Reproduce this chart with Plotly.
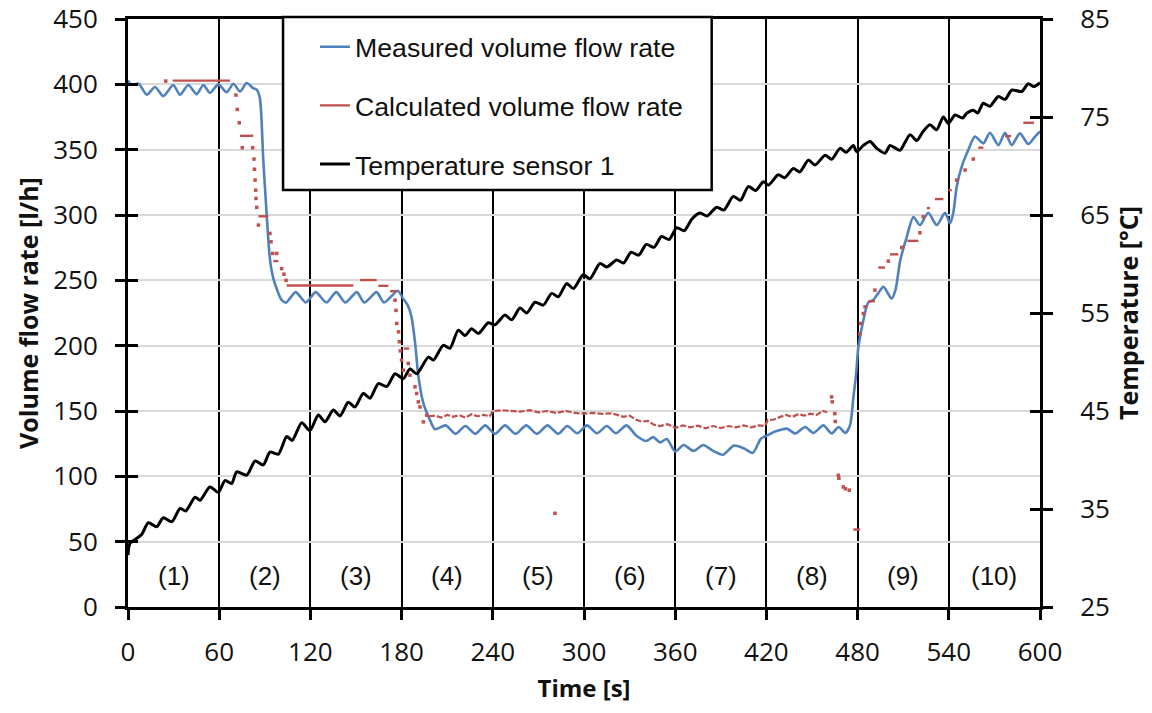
import plotly.graph_objects as go

# ---------------- data ----------------
# Measured volume flow rate [l/h]
meas_t = [0, 2, 7, 12.3, 17.8, 23.2, 29.8, 34.2, 39.7, 45.2,
          49.6, 53.9, 59.4, 64.9, 69.3, 73.7, 78.1, 82.4, 84.6, 86.7,
          89, 91.2, 93.4, 95.6, 98, 101, 104, 110.3, 117, 123.5,
          130.5, 137, 143, 150.5, 155.5, 163.5, 168.5, 177.5, 181, 184,
          186.5, 189, 191, 194.3, 198.7, 202, 209, 215.5, 222, 228.5,
          235, 241.5, 248, 255, 262, 269, 276, 283, 289, 295.5,
          302, 308.5, 315, 321, 328, 334.5, 341, 345.5, 350, 354.5,
          360, 365.5, 372, 378.5, 385, 391.5, 398.5, 405, 411, 416.5,
          421, 425, 429, 433.5, 439, 445.5, 451, 457.5, 463, 467.5,
          472, 475, 477.2, 479, 480.5, 483.8, 487, 490.3, 493.5, 497,
          502.4, 505, 508, 512.3, 516.7, 521, 526.5, 532, 537.5, 540.8,
          543, 545.2, 548.5, 552.8, 557.2, 562.7, 567.1, 572.6, 577, 581.4,
          586.8, 592.3, 596.7, 600]
meas_v = [403, 399.5, 400.5, 392, 398, 391, 399.5, 392, 399.5, 392.5,
          399.5, 393.5, 400, 394, 400.5, 394.5, 401, 397, 396, 390,
          342, 301, 266, 251.5, 243, 235, 233, 241, 233, 241,
          233, 241, 233, 241, 233, 241, 233, 242, 236, 231,
          222, 201, 177, 156, 143, 136, 139, 132.5, 138.5, 132.5,
          139, 132.5, 139, 132.5, 139, 132.5, 139, 132.5, 138.5, 133,
          139, 133, 138.5, 133, 139, 131, 127, 130, 126, 128.5,
          119, 124, 119.5, 124, 119.5, 116.5, 123.5, 121.5, 118, 129,
          131.5, 134, 135.5, 136.5, 132.8, 137.8, 133.2, 139, 132.8, 137.8,
          133.2, 139, 160, 178, 199, 219.5, 233, 235, 240, 245,
          236, 243, 265, 283, 298.5, 292.3, 301.7, 292.3, 301.7, 293.5,
          302, 321.6, 337, 349.7, 360, 354.8, 363, 353.5, 363, 353.5,
          362.5, 354.3, 360, 364]

# Calculated volume flow rate [l/h] - constant plateaus (None = gap)
calc_flat_t = [29.4, 67.1, None, 73.7, 82.4, None, 85.8, 92.3, None,
               95.6, 98.9, None, 104.4, 148.2, None, 152.6, 163.6, None,
               164.7, 171.3, None, 172.4, 176.8, None, 181.5, 185, None,
               477.2, 481.6, None, 487, 491.4, None, 493.6, 498, None,
               501.3, 506.8, None, 512.7, 520, None, 525.5, 527.6, None,
               530.9, 536.4, None, 539.7, 541.9, None, 559.4, 562.7, None,
               577, 581, None, 589, 596]
calc_flat_v = [402.8, 402.8, None, 360.6, 360.6, None, 299, 299, None,
               264.7, 264.7, None, 246, 246, None, 250.2, 250.2, None,
               245.8, 245.8, None, 241.7, 241.7, None, 197.8, 197.8, None,
               59.3, 59.3, None, 234, 234, None, 259.8, 259.8, None,
               269.9, 269.9, None, 280.2, 280.2, None, 305.3, 305.3, None,
               312.2, 312.2, None, 319, 319, None, 351.5, 351.5, None,
               360.4, 360.4, None, 370.6, 370.6]

# Calculated volume flow rate [l/h] - noisy low-flow period
calc_noisy_t = [198, 202, 206, 210, 214, 218, 222, 226, 230, 234,
                238, 240, 246, 252, 258, 264, 270, 276, 282, 288,
                294, 300, 306, 312, 318, 322, 326, 330, 334, 338,
                342, 346, 350, 355, 360, 365, 370, 375, 380, 385,
                390, 395, 400, 405, 410, 415, 419, 421, 425, 429,
                433, 437, 441, 445, 449, 453, 457, 460]
calc_noisy_v = [146, 146.5, 145, 147, 145.5, 146.8, 145, 147.5, 146, 147,
                146, 150, 150.6, 150, 149.5, 150.6, 149, 150, 148.5, 150,
                148.5, 148, 148.5, 147.8, 148.2, 147, 145.5, 146.5, 143.5, 141.8,
                142.5, 139.5, 138.5, 140, 137, 139, 137.5, 138.8, 136.8, 138.5,
                137, 138.5, 137.5, 139, 137.5, 139, 138.5, 143, 143.5, 145.5,
                147, 145.5, 147.5, 146.5, 148, 147, 150, 149]

# Calculated volume flow rate [l/h] - isolated samples
calc_dot_t = [24.8, 71, 71.9, 73.2, 75.2, 82, 82.9, 83.2, 83.6, 84,
              84.2, 84.7, 85.8, 93.4, 94.1, 95.2, 97.8, 101.1, 102.6, 104,
              175.7, 176.3, 176.8, 178, 178.5, 179.2, 180, 181.1, 184.4, 185.5,
              188.8, 189.9, 191, 192.1, 194.3, 196.5, 280.9,
              462.9, 463.3, 465, 465.3, 467.3, 467.7, 470.6, 472, 474.5,
              481.4, 481.8, 483.8, 484.9, 491.4, 500.2, 509, 521, 523.2,
              545.2, 550.7, 556.1]
calc_dot_v = [402.5, 391.8, 380.8, 370.6, 351.5, 351.5, 342.8, 335, 326.7, 319,
              312.7, 305.8, 292.3, 285.9, 279.5, 270.6, 270.6, 259, 254.7, 250,
              234.8, 227, 217, 210.6, 203, 196, 188.9, 181.2, 186.4, 177.4,
              168.5, 163.4, 157, 153.1, 141.7, 146.8, 71.7,
              160.8, 157, 148, 142, 100.8, 98.5, 91.9, 90.5, 89.4,
              209, 217, 224.6, 229.7, 242.5, 264.7, 275.2, 286.4, 298.6,
              326.7, 334.4, 342.8]

# Temperature sensor 1 [°C]
temp_t = [0, 1.3, 5.7, 9, 13.4, 18.9, 23.2, 28.8, 34.2, 38,
          44.1, 47.4, 53.9, 59.4, 63.8, 68.2, 71.5, 78.1, 83.6, 89,
          93.4, 98.9, 104.4, 108, 114.3, 119.7, 125.2, 129.6, 135.1, 139.5,
          144.9, 149.3, 154.8, 159.2, 164.7, 170.2, 175.7, 181.1, 185.5, 189.9,
          197.6, 200.9, 207.4, 211.8, 217.3, 221.7, 226.1, 230.5, 237, 241.4,
          248, 252.4, 257.9, 262.3, 267.8, 273.2, 278.8, 283.1, 288.6, 293,
          299.5, 303.9, 310.5, 315, 321.5, 326, 331, 336, 341, 346,
          351, 356, 361, 366, 371, 376.3, 381, 387.3, 392, 398.2,
          403, 408.1, 413, 418, 421.3, 427.8, 432, 437.7, 442, 447.6,
          452, 458.6, 463, 468.4, 472.5, 477.2, 479.4, 483.8, 488.2, 492.6,
          498, 501.3, 504, 507.9, 514.5, 518.9, 523, 527.6, 532, 536.4,
          539.7, 544.1, 549, 552, 556.1, 559, 562.7, 567, 572.6, 577,
          581.4, 588, 592.3, 596, 600]
temp_v = [30.3, 31.5, 32.0, 32.4, 33.6, 33.2, 34.1, 33.7, 35.05, 34.8,
          36.2, 35.9, 37.25, 36.7, 37.9, 37.6, 38.8, 38.45, 39.9, 39.5,
          40.8, 40.6, 42.4, 42.0, 43.8, 43.0, 44.6, 43.9, 45.1, 44.5,
          45.9, 45.4, 46.8, 46.3, 47.8, 47.5, 48.8, 48.3, 49.3, 48.8,
          50.5, 50.2, 51.7, 51.4, 53.25, 52.7, 53.4, 52.9, 54.0, 53.8,
          54.8, 54.3, 55.5, 55.0, 56.1, 55.8, 57.0, 56.65, 58.0, 57.5,
          58.9, 58.5, 60.05, 59.7, 60.4, 60.1, 61.2, 60.9, 62.0, 61.7,
          62.8, 62.5, 63.7, 63.4, 64.6, 65.2, 64.9, 65.8, 65.5, 66.9,
          66.5, 67.9, 67.5, 68.4, 68.05, 69.1, 68.8, 69.75, 69.4, 70.6,
          70.1, 71.1, 70.7, 71.8, 71.4, 72.1, 71.45, 72.1, 72.5, 71.8,
          71.3, 72.1, 71.9, 71.6, 73.2, 72.6, 73.5, 74.2, 73.7, 75.0,
          74.35, 75.2, 74.9, 75.4, 75.7, 75.4, 76.4, 76.1, 77.1, 76.8,
          77.75, 77.6, 78.4, 78.1, 78.5]

segment_labels = ["(1)", "(2)", "(3)", "(4)", "(5)", "(6)", "(7)", "(8)", "(9)", "(10)"]
segment_len = 60
label_level = 24

assert len(meas_t) == len(meas_v)
assert len(calc_flat_t) == len(calc_flat_v)
assert len(calc_noisy_t) == len(calc_noisy_v)
assert len(calc_dot_t) == len(calc_dot_v)
assert len(temp_t) == len(temp_v)

# ---------------- styling ----------------
BLUE = "#4F81BD"
RED = "#C0504D"
TXT = "#111111"
NUM_FONT = "Open Sans, Liberation Sans, Arial"
LEG_FONT = "Liberation Sans, Arial"

fig = go.Figure()
fig.add_trace(go.Scatter(
    x=meas_t, y=meas_v, mode="lines", name="Measured volume flow rate",
    line=dict(color=BLUE, width=2.6, shape="spline", smoothing=0.7),
    legendgroup="m"))
fig.add_trace(go.Scatter(
    x=calc_flat_t, y=calc_flat_v, mode="lines", name="Calculated volume flow rate",
    line=dict(color=RED, width=2.4), connectgaps=False,
    legendgroup="c"))
fig.add_trace(go.Scatter(
    x=calc_noisy_t, y=calc_noisy_v, mode="lines", showlegend=False,
    line=dict(color=RED, width=2.2, dash="6px,2px"),
    legendgroup="c"))
fig.add_trace(go.Scatter(
    x=calc_dot_t, y=calc_dot_v, mode="markers", showlegend=False,
    marker=dict(color=RED, size=3.5, symbol="square", line=dict(width=0)),
    legendgroup="c"))
fig.add_trace(go.Scatter(
    x=temp_t, y=temp_v, mode="lines", name="Temperature sensor 1", yaxis="y2",
    line=dict(color="black", width=3, shape="spline", smoothing=0.7),
    legendgroup="t"))
# empty traces that only activate the inner tick-mark axes (no marks drawn)
fig.add_trace(go.Scatter(x=[], y=[], yaxis="y3", showlegend=False, hoverinfo="skip"))
fig.add_trace(go.Scatter(x=[], y=[], yaxis="y4", showlegend=False, hoverinfo="skip"))

annotations = []
for i, lab in enumerate(segment_labels):
    annotations.append(dict(
        x=segment_len * i + segment_len / 2, y=label_level, xref="x", yref="y",
        text=lab, showarrow=False,
        font=dict(family=LEG_FONT, size=26, color=TXT)))

tick_common = dict(ticks="outside", ticklen=10, tickwidth=3, tickcolor="black",
                   zeroline=False, automargin=False,
                   tickfont=dict(family=NUM_FONT, size=26, color=TXT))

fig.update_layout(
    width=1152, height=713,
    margin=dict(l=128, r=112, t=19, b=106, pad=0),
    paper_bgcolor="white", plot_bgcolor="white",
    showlegend=True,
    legend=dict(x=0.205, y=0.9935, xanchor="left", yanchor="top",
                bgcolor="rgba(0,0,0,0)", borderwidth=0,
                font=dict(family=LEG_FONT, size=26.7, color=TXT),
                tracegroupgap=21, itemwidth=30),
    shapes=[dict(type="rect", xref="paper", yref="paper",
                 x0=0.170, x1=0.640, y0=0.709, y1=1.0034,
                 fillcolor="white", line=dict(color="black", width=2.5),
                 layer="above")],
    annotations=annotations,
    xaxis=dict(range=[0, 600], tick0=0, dtick=60,
               showgrid=True, gridcolor="black", gridwidth=2.2,
               showline=True, linecolor="black", linewidth=3, mirror=True,
               ticklabelstandoff=10,
               title=dict(text="<b>Time [s]</b>", standoff=12,
                          font=dict(family=NUM_FONT, size=24, color=TXT)),
               **tick_common),
    yaxis=dict(range=[0, 450], tick0=0, dtick=50,
               showgrid=True, gridcolor="#D9D9D9", gridwidth=2,
               showline=True, linecolor="black", linewidth=3,
               ticklabelstandoff=12,
               title=dict(text="<b>Volume flow rate [l/h]</b>", standoff=8,
                          font=dict(family=NUM_FONT, size=25, color=TXT)),
               **tick_common),
    yaxis2=dict(range=[25, 85], tick0=25, dtick=10, overlaying="y", side="right",
                showgrid=False, showline=True, linecolor="black", linewidth=3,
                ticklabelstandoff=22,
                title=dict(text="<b>Temperature [°C]</b>", standoff=12,
                           font=dict(family=NUM_FONT, size=25, color=TXT)),
                **tick_common),
    yaxis3=dict(range=[0, 450], tick0=0, dtick=50, overlaying="y", side="left",
                anchor="x", showgrid=False, showline=False, zeroline=False,
                ticks="inside", ticklen=10, tickwidth=3, tickcolor="black",
                showticklabels=False, automargin=False),
    yaxis4=dict(range=[25, 85], tick0=25, dtick=10, overlaying="y", side="right",
                anchor="x", showgrid=False, showline=False, zeroline=False,
                ticks="inside", ticklen=10, tickwidth=3, tickcolor="black",
                showticklabels=False, automargin=False),
)

fig.write_html("out.html", config={"displayModeBar": False},
               post_script="document.body.style.margin='0';")
